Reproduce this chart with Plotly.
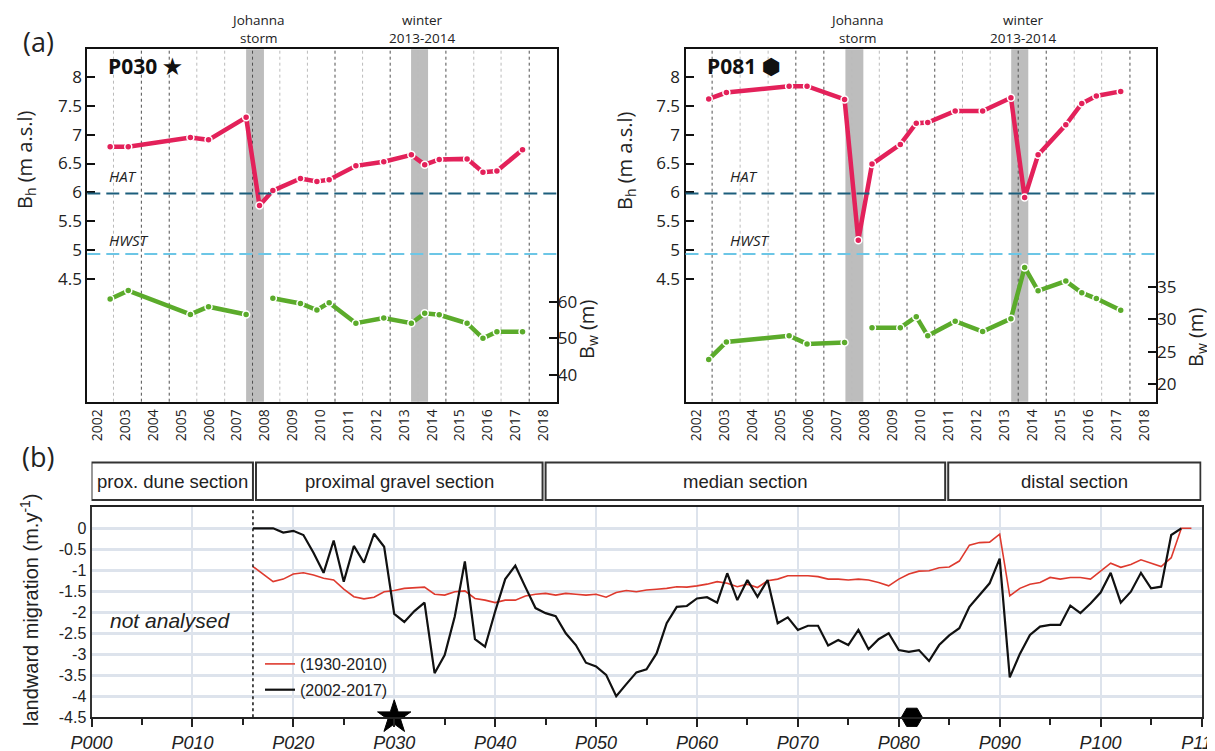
import plotly.graph_objects as go

# ---------------- Panel (a) data ----------------
YEAR_TICKS = [2002, 2003, 2004, 2005, 2006, 2007, 2008, 2009, 2010, 2011, 2012, 2013, 2014, 2015, 2016, 2017, 2018]

P030_YEARS = [2002.45, 2003.10, 2005.33, 2005.98, 2007.33, 2007.81, 2008.29, 2009.28, 2009.87, 2010.31,
              2011.27, 2012.27, 2013.26, 2013.74, 2014.26, 2015.26, 2015.83, 2016.33, 2017.25]
P030_BH = [6.79, 6.79, 6.95, 6.91, 7.30, 5.77, 6.03, 6.24, 6.19, 6.22,
           6.46, 6.53, 6.65, 6.48, 6.57, 6.58, 6.35, 6.37, 6.74]
P030_BW = [60.7, 63.0, 56.5, 58.6, 56.5, None, 60.9, 59.5, 57.7, 59.7,
           54.1, 55.5, 54.1, 56.8, 56.4, 54.1, 50.0, 51.8, 51.8]

P081_YEARS = [2002.45, 2003.08, 2005.32, 2005.96, 2007.30, 2007.79, 2008.28, 2009.29, 2009.86, 2010.27,
              2011.25, 2012.23, 2013.24, 2013.73, 2014.21, 2015.20, 2015.77, 2016.29, 2017.16]
P081_BH = [7.62, 7.73, 7.84, 7.84, 7.61, 5.17, 6.49, 6.83, 7.20, 7.21,
           7.41, 7.41, 7.64, 5.91, 6.65, 7.17, 7.54, 7.67, 7.75]
P081_BW = [23.8, 26.5, 27.45, 26.2, 26.4, None, 28.7, 28.7, 30.4, 27.45,
           29.7, 28.1, 30.1, 38.0, 34.4, 35.9, 34.1, 33.2, 31.4]

HAT = 5.98
HWST = 4.93
BH_TICKS = [4.5, 5, 5.5, 6, 6.5, 7, 7.5, 8]
BH_TICKTEXT = ["4.5", "5", "5.5", "6", "6.5", "7", "7.5", "8"]
P030_BW_TICKS = [40, 50, 60]
P081_BW_TICKS = [20, 25, 30, 35]

EVENT_NAMES = ["Johanna<br>storm", "winter<br>2013-2014"]
EVENT_START = [2007.33, 2013.25]
EVENT_END = [2007.97, 2013.86]

GRID_YEARS = [2002.57, 2003.57, 2004.57, 2005.56, 2006.56, 2007.56, 2008.54, 2009.53,
              2010.52, 2011.51, 2012.5, 2013.5, 2014.5, 2015.5, 2016.48, 2017.49]
P030_DARK_GRID = [2003.57, 2004.57, 2007.56, 2010.52, 2012.5, 2014.5, 2017.49]
P081_DARK_GRID = [2002.57, 2005.56, 2006.56, 2009.53, 2010.52, 2013.5, 2014.5, 2017.49]

# ---------------- Panel (b) data ----------------
PROFILES_1930 = list(range(16, 110))
MIGRATION_1930_2010 = [
    -0.91, -1.09, -1.27, -1.21, -1.09, -1.06, -1.11, -1.19, -1.23, -1.45,   # 16-25
    -1.63, -1.68, -1.64, -1.51, -1.48, -1.43, -1.41, -1.40, -1.57, -1.59,   # 26-35
    -1.51, -1.49, -1.67, -1.71, -1.77, -1.71, -1.71, -1.61, -1.57, -1.55,   # 36-45
    -1.59, -1.55, -1.57, -1.59, -1.57, -1.64, -1.53, -1.48, -1.51, -1.47,   # 46-55
    -1.45, -1.43, -1.39, -1.40, -1.37, -1.33, -1.27, -1.31, -1.39, -1.33,   # 56-65
    -1.41, -1.25, -1.21, -1.13, -1.13, -1.13, -1.15, -1.21, -1.21, -1.23,   # 66-75
    -1.21, -1.23, -1.29, -1.37, -1.21, -1.09, -1.02, -1.01, -0.94, -0.92,   # 76-85
    -0.78, -0.40, -0.34, -0.33, -0.14, -1.61, -1.43, -1.33, -1.29, -1.17,   # 86-95
    -1.21, -1.17, -1.17, -1.21, -1.02, -0.83, -0.93, -0.86, -0.75, -0.83,   # 96-105
    -0.91, -0.70, 0.0, 0.0,                                                 # 106-109
]
PROFILES_2002 = list(range(16, 109))
MIGRATION_2002_2017 = [
    0.0, 0.0, 0.0, -0.10, -0.06, -0.16, -0.58, -1.06, -0.29, -1.27,         # 16-25
    -0.42, -0.82, -0.13, -0.44, -2.04, -2.23, -1.97, -1.77, -3.45, -3.02,   # 26-35
    -2.10, -0.79, -2.64, -2.82, -1.98, -1.21, -0.89, -1.40, -1.90, -2.02,   # 36-45
    -2.09, -2.50, -2.78, -3.20, -3.29, -3.49, -4.00, -3.71, -3.43, -3.36,   # 46-55
    -2.98, -2.26, -1.87, -1.85, -1.67, -1.64, -1.77, -1.07, -1.71, -1.23,   # 56-65
    -1.63, -1.23, -2.26, -2.12, -2.42, -2.32, -2.32, -2.79, -2.66, -2.78,   # 66-75
    -2.42, -2.88, -2.64, -2.50, -2.90, -2.94, -2.90, -3.16, -2.78, -2.55,   # 76-85
    -2.38, -1.87, -1.60, -1.31, -0.72, -3.55, -2.99, -2.54, -2.34, -2.30,   # 86-95
    -2.30, -1.84, -2.02, -1.79, -1.53, -1.06, -1.77, -1.51, -1.06, -1.43,   # 96-105
    -1.39, -0.16, 0.0,                                                      # 106-108
]
PROFILE_TICKS = [0, 10, 20, 30, 40, 50, 60, 70, 80, 90, 100, 110]
PROFILE_TICKTEXT = ["P000", "P010", "P020", "P030", "P040", "P050", "P060", "P070", "P080", "P090", "P100", "P110"]
MIG_TICKS = [0, -0.5, -1, -1.5, -2, -2.5, -3, -3.5, -4, -4.5]
MIG_TICKTEXT = ["0", "-0.5", "-1", "-1.5", "-2", "-2.5", "-3", "-3.5", "-4", "-4.5"]
ANALYSIS_START = 16
SECTION_NAMES = ["prox. dune section", "proximal gravel section", "median section", "distal section"]
SECTION_START = [0.0, 16.3, 45.0, 84.9]
SECTION_END = [16.0, 44.7, 84.6, 109.9]
HIGHLIGHT_PROFILES = [30, 81.3]
HIGHLIGHT_SYMBOLS = ["star", "hexagon2"]

# ---------------- styling ----------------
PINK = "#E3215A"
GREEN = "#5BAB2B"
RED = "#DE3A2E"
TOPFONT = "Open Sans"
BOTFONT = "Liberation Sans"
PAGE_W, PAGE_H = 1215, 751
OFF = 8  # default page margin around the plot div
W, H = PAGE_W - OFF, PAGE_H - OFF


def px(xpix):
    return (xpix - OFF) / W


def py(ypix):
    return 1 - (ypix - OFF) / H


fig = go.Figure()

# top panels
for xa, ya_h, ya_w, yrs, bh, bw in [("x", "y", "y2", P030_YEARS, P030_BH, P030_BW),
                                     ("x2", "y3", "y4", P081_YEARS, P081_BH, P081_BW)]:
    fig.add_trace(go.Scatter(x=yrs, y=bh, xaxis=xa, yaxis=ya_h, mode="lines+markers",
                             line=dict(color=PINK, width=4.5),
                             marker=dict(size=7, color=PINK, line=dict(color="white", width=1.5)),
                             showlegend=False, hoverinfo="x+y"))
    fig.add_trace(go.Scatter(x=yrs, y=bw, xaxis=xa, yaxis=ya_w, mode="lines+markers",
                             line=dict(color=GREEN, width=4.5), connectgaps=False,
                             marker=dict(size=7, color=GREEN, line=dict(color="white", width=1.5)),
                             showlegend=False, hoverinfo="x+y"))

# bottom panel
fig.add_trace(go.Scatter(x=PROFILES_1930, y=MIGRATION_1930_2010, xaxis="x3", yaxis="y5", mode="lines",
                         line=dict(color=RED, width=1.6), name="(1930-2010)", legendgroup="a"))
fig.add_trace(go.Scatter(x=PROFILES_2002, y=MIGRATION_2002_2017, xaxis="x3", yaxis="y5", mode="lines",
                         line=dict(color="#111111", width=2.2), name="(2002-2017)", legendgroup="b"))
fig.add_trace(go.Scatter(x=HIGHLIGHT_PROFILES, y=[MIG_TICKS[-1]] * len(HIGHLIGHT_PROFILES),
                         xaxis="x3", yaxis="y5", mode="markers", opacity=1,
                         marker=dict(symbol=HIGHLIGHT_SYMBOLS, size=[25, 21], color="#000000", opacity=1,
                                     line=dict(width=1, color="#000000")),
                         cliponaxis=False, showlegend=False))

shapes = []
annotations = []

top_tick_font = dict(family=TOPFONT, size=17, color="#222")
year_font = dict(family=TOPFONT, size=14, color="#222")

panels = [
    dict(x="x", y="y", dark=P030_DARK_GRID),
    dict(x="x2", y="y3", dark=P081_DARK_GRID),
]
for p in panels:
    for s, e in zip(EVENT_START, EVENT_END):
        shapes.append(dict(type="rect", xref=p["x"], yref=p["y"] + " domain", x0=s, x1=e, y0=0, y1=1,
                           fillcolor="#BDBDBD", line=dict(width=0), layer="below"))
    for g in GRID_YEARS:
        dark = g in p["dark"]
        shapes.append(dict(type="line", xref=p["x"], yref=p["y"] + " domain", x0=g, x1=g, y0=0, y1=1,
                           line=dict(color="#505050" if dark else "#BBBBBB", width=1, dash="dot"),
                           layer="below"))
    shapes.append(dict(type="line", xref=p["x"] + " domain", yref=p["y"], x0=0, x1=1, y0=HAT, y1=HAT,
                       line=dict(color="#1C5E7C", width=2, dash="13px,6px")))
    shapes.append(dict(type="line", xref=p["x"] + " domain", yref=p["y"], x0=0, x1=1, y0=HWST, y1=HWST,
                       line=dict(color="#6CC6E6", width=2, dash="13px,6px")))
    for name, s, e in zip(EVENT_NAMES, EVENT_START, EVENT_END):
        annotations.append(dict(xref=p["x"], yref="paper", x=(s + e) / 2 + 0.1, y=py(29), text=name,
                                showarrow=False, font=dict(family=TOPFONT, size=13.5, color="#222"),
                                xanchor="center", yanchor="middle"))

# HAT / HWST labels
for xa, ya, xl in [("x", "y", 2002.35), ("x2", "y3", 2003.15)]:
    annotations.append(dict(xref=xa, yref=ya, x=xl, y=6.28, text="HAT", showarrow=False, xanchor="left",
                            font=dict(family=TOPFONT, size=15, color="#222", style="italic")))
    annotations.append(dict(xref=xa, yref=ya, x=xl, y=5.18, text="HWST", showarrow=False, xanchor="left",
                            font=dict(family=TOPFONT, size=15, color="#222", style="italic")))

# profile labels in top panels
annotations.append(dict(xref="paper", yref="paper", x=px(106), y=py(66), text="<b>P030 ★</b>", showarrow=False,
                        xanchor="left", yanchor="middle", font=dict(family=TOPFONT, size=21, color="#111")))
annotations.append(dict(xref="paper", yref="paper", x=px(705), y=py(66), text="<b>P081 ⬢</b>", showarrow=False,
                        xanchor="left", yanchor="middle", font=dict(family=TOPFONT, size=21, color="#111")))

# axis titles for top panels
for xc, yc, txt in [(25, 160, "B<sub>h</sub> (m a.s.l)"), (625, 160, "B<sub>h</sub> (m a.s.l)"),
                    (588, 330, "B<sub>w</sub> (m)"), (1196, 338, "B<sub>w</sub> (m)")]:
    annotations.append(dict(xref="paper", yref="paper", x=px(xc), y=py(yc), text=txt, showarrow=False,
                            textangle=-90, xanchor="center", yanchor="middle",
                            font=dict(family=TOPFONT, size=20, color="#222")))

# panel letters
annotations.append(dict(xref="paper", yref="paper", x=px(38), y=py(42), text="(a)", showarrow=False,
                        xanchor="center", yanchor="middle", font=dict(family=TOPFONT, size=27, color="#222")))
annotations.append(dict(xref="paper", yref="paper", x=px(38), y=py(456), text="(b)", showarrow=False,
                        xanchor="center", yanchor="middle", font=dict(family=TOPFONT, size=27, color="#222")))

# bottom panel decorations
shapes.append(dict(type="line", xref="x3", yref="y5 domain", x0=ANALYSIS_START, x1=ANALYSIS_START, y0=0, y1=1,
                   line=dict(color="#111", width=1.5, dash="dot")))
for name, s, e in zip(SECTION_NAMES, SECTION_START, SECTION_END):
    shapes.append(dict(type="rect", xref="x3", yref="paper", x0=s, x1=e, y0=py(500), y1=py(462.5),
                       line=dict(color="#333", width=2), fillcolor="white"))
    annotations.append(dict(xref="x3", yref="paper", x=(s + e) / 2, y=py(481), text=name, showarrow=False,
                            xanchor="center", yanchor="middle",
                            font=dict(family=BOTFONT, size=18.5, color="#222")))
annotations.append(dict(xref="x3", yref="y5", x=7.8, y=-2.2, text="not analysed", showarrow=False,
                        xanchor="center", yanchor="middle",
                        font=dict(family=BOTFONT, size=21, color="#222", style="italic")))
annotations.append(dict(xref="paper", yref="paper", x=px(29), y=py(610),
                        text="landward migration (m.y<sup>-1</sup>)", showarrow=False, textangle=-90,
                        xanchor="center", yanchor="middle",
                        font=dict(family=BOTFONT, size=20, color="#222")))

line_black = "#111111"
layout_axes = dict(
    xaxis=dict(domain=[px(87.3), px(556.8)], range=[2001.63, 2018.48], anchor="y",
               tickvals=YEAR_TICKS, ticktext=[str(v) for v in YEAR_TICKS], tickangle=-90, tickfont=year_font,
               showline=True, mirror=True, linecolor=line_black, linewidth=2, showgrid=False, zeroline=False,
               ticks="", automargin=False),
    yaxis=dict(domain=[py(401.7), py(49.3)], range=[2.37, 8.48], anchor="x",
               tickvals=BH_TICKS, ticktext=BH_TICKTEXT, ticks="inside", ticklen=8, tickwidth=1.5,
               tickcolor=line_black, tickfont=top_tick_font, showline=True, mirror=True, linecolor=line_black,
               linewidth=2, showgrid=False, zeroline=False, automargin=False),
    yaxis2=dict(overlaying="y", side="right", anchor="x", range=[32.7, 128.8], tickvals=P030_BW_TICKS,
                ticks="inside", ticklen=8, tickwidth=1.5, tickcolor=line_black, tickfont=top_tick_font,
                showline=False, showgrid=False, zeroline=False, automargin=False),
    xaxis2=dict(domain=[px(685.5), px(1156)], range=[2001.62, 2018.42], anchor="y3",
                tickvals=YEAR_TICKS, ticktext=[str(v) for v in YEAR_TICKS], tickangle=-90, tickfont=year_font,
                showline=True, mirror=True, linecolor=line_black, linewidth=2, showgrid=False, zeroline=False,
                ticks="", automargin=False),
    yaxis3=dict(domain=[py(401.7), py(49.3)], range=[2.37, 8.48], anchor="x2",
                tickvals=BH_TICKS, ticktext=BH_TICKTEXT, ticks="inside", ticklen=8, tickwidth=1.5,
                tickcolor=line_black, tickfont=top_tick_font, showline=True, mirror=True, linecolor=line_black,
                linewidth=2, showgrid=False, zeroline=False, automargin=False),
    yaxis4=dict(overlaying="y3", side="right", anchor="x2", range=[17.27, 71.7], tickvals=P081_BW_TICKS,
                ticks="inside", ticklen=8, tickwidth=1.5, tickcolor=line_black, tickfont=top_tick_font,
                showline=False, showgrid=False, zeroline=False, automargin=False),
    xaxis3=dict(domain=[px(91.5), px(1201.5)], range=[0, 110], anchor="y5",
                tickvals=PROFILE_TICKS, ticktext=PROFILE_TICKTEXT, ticks="outside", ticklen=8, tickwidth=1.5,
                tickcolor="#222", tickfont=dict(family=BOTFONT, size=18, color="#222", style="italic"),
                ticklabeloverflow="allow",
                minor=dict(dtick=5, tick0=0, ticks="outside", ticklen=6, tickwidth=1.5, tickcolor="#222",
                           showgrid=False),
                showline=True, mirror=True, linecolor="#222", linewidth=2, showgrid=True,
                gridcolor="#DDE3EC", gridwidth=2, zeroline=False, automargin=False),
    yaxis5=dict(domain=[py(717.3), py(507.3)], range=[-4.5, 0.5], anchor="x3",
                tickvals=MIG_TICKS, ticktext=MIG_TICKTEXT, ticks="",
                tickfont=dict(family=BOTFONT, size=16, color="#222"),
                showline=True, mirror=True, linecolor="#333", linewidth=2, showgrid=True,
                gridcolor="#DDE3EC", gridwidth=2.5, zeroline=False, automargin=False),
)

fig.update_layout(
    width=W, height=H, autosize=False,
    margin=dict(l=0, r=0, t=0, b=0, autoexpand=False),
    paper_bgcolor="white", plot_bgcolor="rgba(0,0,0,0)",
    shapes=shapes, annotations=annotations,
    showlegend=True,
    legend=dict(x=px(260), y=py(647), xanchor="left", yanchor="top", bgcolor="rgba(0,0,0,0)",
                font=dict(family=BOTFONT, size=16, color="#222"), tracegroupgap=2, traceorder="grouped"),
    **layout_axes,
)

fig.write_html("out.html")
